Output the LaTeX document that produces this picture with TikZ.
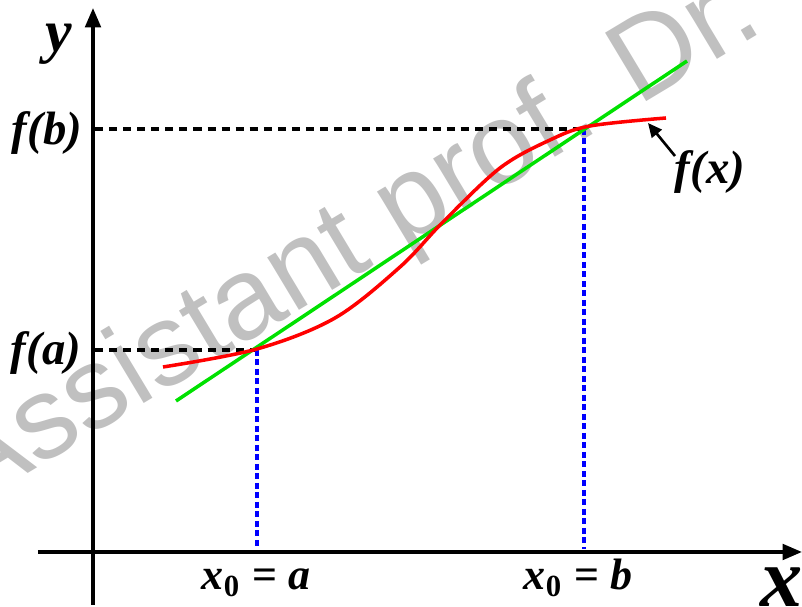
\documentclass[tikz,border=0pt]{standalone}
\usepackage{fontspec}
\setmainfont{Liberation Serif}
\newfontfamily\wmfont{Liberation Sans}
\usetikzlibrary{arrows.meta}
\definecolor{lgreen}{RGB}{0,225,0}
\definecolor{wmgray}{RGB}{192,192,192}
\begin{document}
\begin{tikzpicture}[x=0.01cm,y=-0.01cm,
  axis/.style={line width=1pt,-{Triangle[length=5.5pt,width=4.4pt]}},
  guide/.style={line width=0.95pt,dash pattern=on 2.3pt off 1.7pt},
  vguide/.style={line width=1pt,blue,dash pattern=on 1.7pt off 1pt},
  lbl/.style={font=\fontsize{12.5}{14}\selectfont\bfseries\itshape,inner sep=0pt,anchor=base},
  flbl/.style={lbl,font=\fontsize{13.3}{15}\selectfont\bfseries\itshape},
  wm/.style={font=\wmfont\fontsize{33}{35}\selectfont,text=wmgray,inner sep=0pt}]
\useasboundingbox (0,0) rectangle (802,607);
\begin{scope}
  \clip (0,0) rectangle (802,607);
  \node[wm,rotate=31,anchor=base west] (wm) at (-29,508) {Assistant prof. Dr.};
\end{scope}
% axes
\coordinate (ybot) at (93,605);
\coordinate (ytop) at (93,8);
\coordinate (xl) at (38,552);
\coordinate (xr) at (802,552);
\draw[axis] (ybot) -- (ytop);
\draw[axis] (xl) -- (xr);
% key points
\coordinate (A) at (257,350);
\coordinate (B) at (584,129);
\coordinate (Ay) at (95,350);
\coordinate (By) at (95,129);
\coordinate (Ax) at (257,549);
\coordinate (Bx) at (584,549);
\draw[guide] (Ay) -- (A);
\draw[guide] (By) -- (B);
\draw[vguide] (A) -- (Ax);
\draw[vguide] (B) -- (Bx);
% secant line
\coordinate (g1) at (176,401);
\coordinate (g2) at (687,61);
\draw[lgreen,line width=1pt] (g1) -- (g2);
% curve
\draw[red,line width=1pt] plot[smooth,tension=0.55] coordinates {(163,367) (257,349) (335,318) (400,267) (443,222) (500,168) (550,140) (590,126) (666,118)};
% labels
\node[flbl] (fb) at (47,145) {f(b)};
\node[flbl] (fa) at (46,365) {f(a)};
\node[flbl] (fx) at (710,184) {f(x)};
\node[lbl,font=\fontsize{17}{18}\selectfont\bfseries\itshape] (ylab) at (59,52) {y};
\node[lbl,font=\fontsize{24}{26}\selectfont\bfseries\itshape] (xlab) at (782,607) {x};
\node[lbl] (xa) at (256,590) {x\textsubscript{\upshape 0} {\upshape =} a};
\node[lbl] (xb) at (578,590) {x\textsubscript{\upshape 0} {\upshape =} b};
\coordinate (fxtip) at (648,123);
\coordinate (fxtail) at (675,156);
\draw[line width=0.75pt,-{Triangle[length=4pt,width=3.6pt]}] (fxtail) -- (fxtip);
\end{tikzpicture}
\end{document}
